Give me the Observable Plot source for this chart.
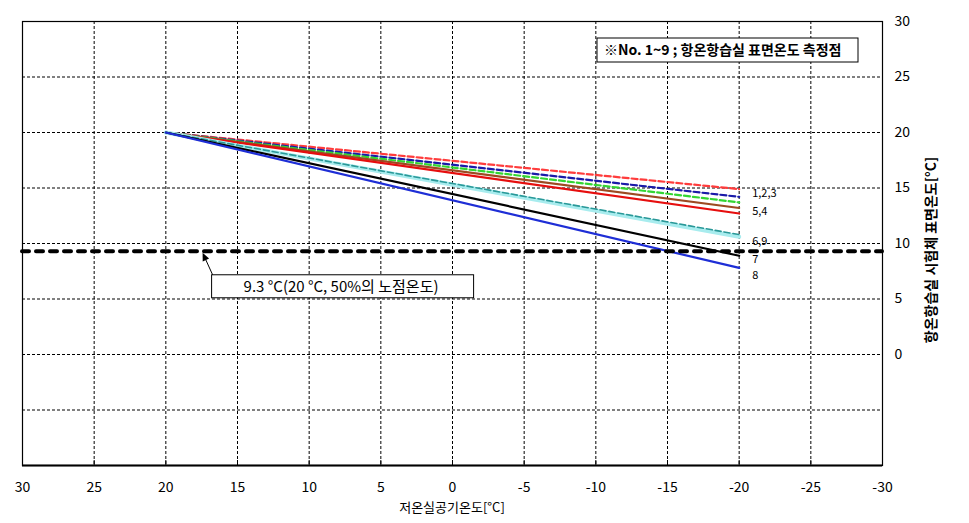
<!DOCTYPE html>
<html><head><meta charset="utf-8">
<script src="https://cdn.jsdelivr.net/npm/d3@7"></script>
<script src="https://cdn.jsdelivr.net/npm/@observablehq/plot@0.6"></script>
<style>body{margin:0;background:#fff}</style>
</head><body><div id="chart"></div>
<script>
// ---- data ----
const xTicks = [30,25,20,15,10,5,0,-5,-10,-15,-20,-25,-30];
const yTicks = [0,5,10,15,20,25,30];
const xGrid = [25,20,15,10,5,0,-5,-10,-15,-20,-25];
const yGrid = [25,20,15,10,5,0,-5];
const airTemp = [20, -20];                 // 저온실공기온도 (start, end)
const seriesNo = ["1","2","3","5","4","6","9","7","8"];
const startSurface = [20,20,20,20,20,20,20,20,20];
const endSurface = [14.9,14.2,13.7,13.2,12.7,10.6,10.8,8.9,7.8];
const colors = ["#ff3c3c","#1a1aa8","#33d633","#9c4a22","#e60e0e","#a8ecee","#2a9898","#000000","#1e2ed6"];
const dashes = ["6,3","6,3","6,3",null,null,null,"6,3",null,null];
const widths = [2.2,2.2,2.2,2.2,2.2,4,1.6,2.2,2.2];
const dewPoint = 9.3;
const labelText = ["1,2,3","5,4","6,9","7","8"];
const labelY = [14.5,12.9,10.2,8.55,7.1];
const noteTipX = 17.4;
const noteText = "9.3 °C(20 °C, 50%의 노점온도)";
const legendText = "※No. 1~9 ; 항온항습실 표면온도 측정점";
const xTitle = "저온실공기온도[°C]";
const yTitle = "항온항습실 시험체 표면온도[°C]";

const rows = seriesNo.flatMap((no, i) => [
  {no, x: airTemp[0], y: startSurface[i]},
  {no, x: airTemp[1], y: endSurface[i]}
]);
const labels = labelText.map((t, i) => ({t, x: airTemp[1], y: labelY[i]}));

const font = "'Noto Sans CJK KR', 'Noto Sans', sans-serif";
const lineMarks = seriesNo.map((no, i) =>
  Plot.line(rows.filter(r => r.no === no), {
    x: "x", y: "y", stroke: colors[i], strokeWidth: widths[i],
    strokeDasharray: dashes[i] || undefined
  })
);

const svg = Plot.plot({
  width: 969, height: 523,
  marginLeft: 22, marginRight: 87, marginTop: 21, marginBottom: 58,
  style: {fontFamily: font, background: "#fff", color: "#000"},
  x: {domain: [30, -30], label: null},
  y: {domain: [-10, 30], label: null},
  marks: [
    Plot.gridX(xGrid, {stroke: "#000", strokeOpacity: 1, strokeDasharray: "3,2"}),
    Plot.gridY(yGrid, {stroke: "#000", strokeOpacity: 1, strokeDasharray: "3,2"}),
    Plot.frame({stroke: "#000", strokeWidth: 1.2}),
    Plot.ruleY([-10], {stroke: "#000", strokeWidth: 2}),
    Plot.tickX(xTicks, {x: d => d, insetTop: 439, stroke: "#000"}),
    Plot.axisX(xTicks, {tickSize: 0, tickPadding: 17, fontSize: 14, label: null, tickFormat: d => String(d)}),
    Plot.axisY(yTicks, {anchor: "right", tickSize: 0, tickPadding: 12, fontSize: 14, label: null, tickFormat: d => String(d)}),
    ...lineMarks,
    Plot.ruleY([dewPoint], {stroke: "#000", strokeWidth: 4, strokeDasharray: "7,7", strokeLinecap: "round"}),
    Plot.text(labels, {x: "x", y: "y", text: "t", dx: 13, textAnchor: "start", fontSize: 11, fill: "#000"})
  ]
});

const sx = svg.scale("x"), sy = svg.scale("y");
const g = d3.select(svg).append("g").attr("font-family", font).attr("text-anchor", "start");
// annotation box for dew point
const tipX = sx.apply(noteTipX), tipY = sy.apply(dewPoint) + 2;
const bx = tipX + 9, by = tipY + 22, bw = 262, bh = 23;
g.append("rect").attr("x", bx).attr("y", by).attr("width", bw).attr("height", bh)
  .attr("fill", "#fff").attr("stroke", "#000").attr("stroke-width", 1);
g.append("text").attr("x", bx + 32).attr("y", by + bh / 2).attr("dy", "0.35em")
  .attr("font-size", 15).text(noteText);
// arrow
const ax0 = bx + 1, ay0 = by;
const ang = Math.atan2(tipY - ay0, tipX - ax0);
g.append("line").attr("x1", ax0).attr("y1", ay0)
  .attr("x2", tipX - 6 * Math.cos(ang)).attr("y2", tipY - 6 * Math.sin(ang))
  .attr("stroke", "#000").attr("stroke-width", 1);
const hl = 8, hw = 3.5;
const p = [[tipX, tipY],
  [tipX - hl * Math.cos(ang) + hw * Math.sin(ang), tipY - hl * Math.sin(ang) - hw * Math.cos(ang)],
  [tipX - hl * Math.cos(ang) - hw * Math.sin(ang), tipY - hl * Math.sin(ang) + hw * Math.cos(ang)]];
g.append("path").attr("d", "M" + p.map(q => q.join(",")).join("L") + "Z").attr("fill", "#000");
// legend box
g.append("rect").attr("x", 597).attr("y", 38).attr("width", 261).attr("height", 24)
  .attr("fill", "#fff").attr("stroke", "#000").attr("stroke-width", 1);
g.append("text").attr("x", 604).attr("y", 50).attr("dy", "0.35em")
  .attr("font-size", 14).attr("font-weight", "bold").text(legendText);
// axis titles
g.append("text").attr("x", 452).attr("y", 507).attr("dy", "0.35em").attr("text-anchor", "middle")
  .attr("font-size", 13).text(xTitle);
g.append("text").attr("transform", "translate(931,250) rotate(-90)").attr("dy", "0.35em")
  .attr("text-anchor", "middle").attr("font-size", 14).attr("font-weight", "bold").text(yTitle);

document.getElementById("chart").appendChild(svg);
</script>
</body></html>
